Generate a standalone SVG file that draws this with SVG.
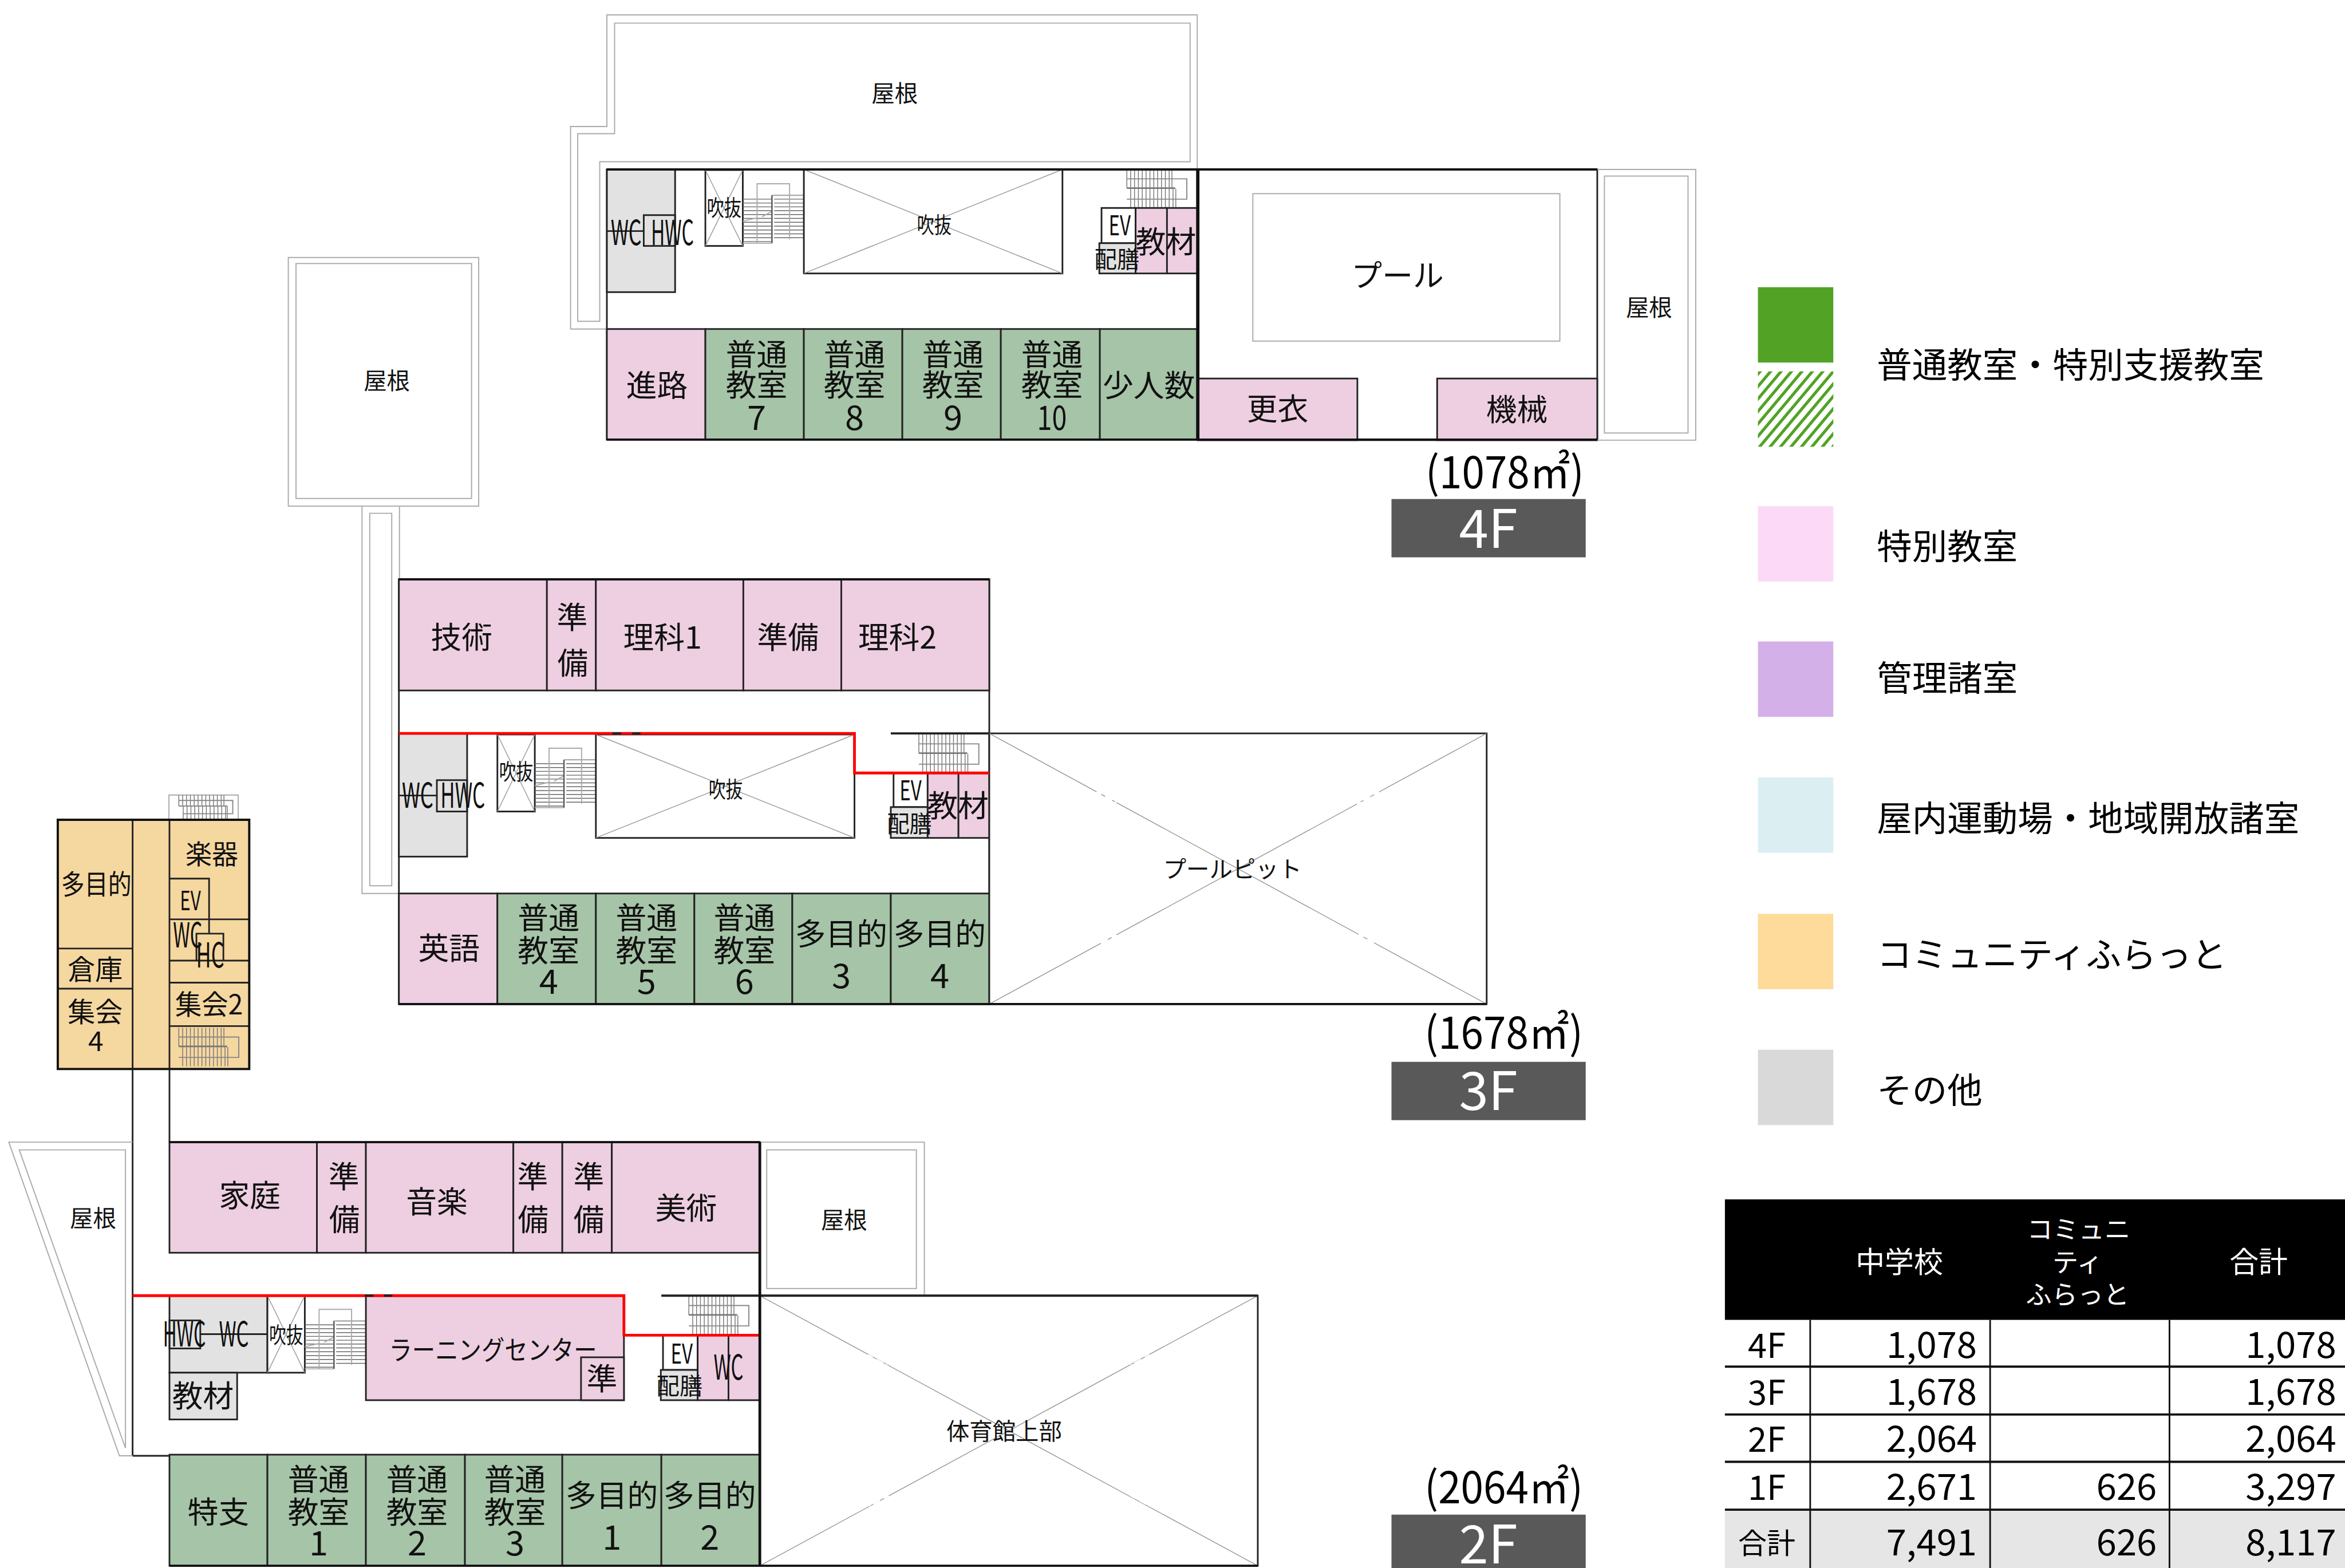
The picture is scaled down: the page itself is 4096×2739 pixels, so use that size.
<svg xmlns="http://www.w3.org/2000/svg" xmlns:xlink="http://www.w3.org/1999/xlink" width="4096" height="2739" viewBox="0 0 4096 2739">
<style>
text{font-family:"Noto Sans CJK JP","Noto Sans",sans-serif;fill:#111;text-anchor:middle}
.f56{font-size:56px}.f60{font-size:62px}.f42{font-size:42px}.f40{font-size:40px}.f50{font-size:50px}.f48{font-size:48px}.f46{font-size:46px}
.leg{font-size:64px;text-anchor:start;fill:#000}
.area{font-size:80px;fill:#000}
.flr{font-size:96px;fill:#fff}
.num{font-size:66px;text-anchor:end;fill:#000}
.lab{font-size:62px;fill:#000}
.hd{fill:#fff}
.pk{fill:#edcfe1;stroke:#222;stroke-width:3}
.gr{fill:#a6c4a7;stroke:#222;stroke-width:3}
.gy{fill:#e2e2e2;stroke:#222;stroke-width:3}
.wh{fill:#fff;stroke:#222;stroke-width:3}
.or{fill:#f5d7a0;stroke:#222;stroke-width:3}
.no{fill:none;stroke:#222;stroke-width:3}
.thick{fill:none;stroke:#111;stroke-width:4}
.roof{fill:none;stroke:#aaa;stroke-width:2}
.xl{fill:none;stroke:#999;stroke-width:1.5}
.red{fill:none;stroke:#f00;stroke-width:5}
.gap{fill:none;stroke:#fff;stroke-width:4;stroke-dasharray:10 8 14 6}
.tb{fill:none;stroke:#111;stroke-width:3}
</style>
<defs>
<pattern id="hatch" width="19" height="23" patternUnits="userSpaceOnUse" patternTransform="skewX(-40)">
<rect width="19" height="23" fill="#fff"/><rect width="7" height="23" fill="#52a325"/>
</pattern>
<g id="stL">
<path fill="none" stroke="#666" stroke-width="1.5" d="M0 28H53M0 35H53M0 42H53M0 49H53M0 56H53M0 63H53M0 70H53M0 77H53M0 84H53M0 91H53M0 98H53M0 105H53M57 21H111M57 28H111M57 35H111M57 42H111M57 49H111M57 56H111M57 63H111M57 70H111M57 77H111M57 84H111M57 91H111M57 98H111"/>
<path fill="none" stroke="#aaa" stroke-width="2" d="M26 108V0H85V101M0 108H53M53 21H111M0 68L25 62M35 60L53 50"/>
<path fill="none" stroke="#555" stroke-width="2.5" d="M53 21V108"/>
</g>
<g id="stR">
<path fill="none" stroke="#777" stroke-width="1.5" d="M0 0V34M7 0V34M14 0V34M21 0V34M28 0V34M35 0V34M42 0V34M49 0V34M56 0V34M63 0V34M70 0V34M77 0V34M82 0V34M7 35V70M14 35V70M21 35V70M28 35V70M35 35V70M42 35V70M49 35V70M56 35V70M63 35V70M70 35V70M77 35V70M84 35V70M89 35V70"/>
<path fill="none" stroke="#888" stroke-width="2" d="M0 17H109V54H0"/>
<path fill="none" stroke="#777" stroke-width="3" d="M0 34H88"/>
</g>
</defs>
<rect width="4096" height="2739" fill="#fff"/>
<g transform="scale(0.96105)">

<g id="floor-4F">
<path class="roof" d="M1103 598H1037V230H1103V27H2176V308"/>
<path class="roof" d="M1090 294H2163V42H1117V243H1050V584H1090Z"/>
<rect class="wh" x="1103" y="308" width="1073" height="491"/>
<rect class="gy" x="1103" y="308" width="124" height="223"/>
<rect class="no" x="1170" y="391" width="57" height="56"/>
<path class="no" d="M1103 420H1170"/>
<rect class="wh" x="1282" y="309" width="68" height="138"/>
<path class="xl" d="M1282 309L1350 447M1350 309L1282 447"/>
<use href="#stL" x="1350" y="334"/>
<rect class="wh" x="1461" y="308" width="470" height="189"/>
<path class="xl" d="M1461 308L1931 497M1931 308L1461 497"/>
<use href="#stR" x="2048" y="308"/>
<rect class="wh" x="2002" y="378" width="62" height="64"/>
<rect class="gy" x="1998" y="442" width="66" height="55"/>
<rect class="pk" x="2064" y="378" width="57" height="119"/>
<rect class="pk" x="2121" y="378" width="55" height="119"/>
<rect class="pk" x="1103" y="598" width="179" height="201"/>
<rect class="gr" x="1282" y="598" width="179" height="201"/>
<rect class="gr" x="1461" y="598" width="179" height="201"/>
<rect class="gr" x="1640" y="598" width="179" height="201"/>
<rect class="gr" x="1819" y="598" width="180" height="201"/>
<rect class="gr" x="1999" y="598" width="177" height="201"/>
<rect class="wh" x="2177" y="308" width="726" height="492"/>
<rect class="roof" x="2277" y="352" width="558" height="268"/>
<rect class="pk" x="2177" y="688" width="290" height="112"/>
<rect class="pk" x="2612" y="688" width="291" height="112"/>
<path class="roof" d="M2903 308H3082V800H2903"/>
<rect class="roof" x="2916" y="320" width="152" height="467"/>
<path class="thick" d="M1103 308H2903M1103 799H2903"/>
<path fill="none" stroke="#111" stroke-width="6" d="M2177 308V800"/>
<text class="f42" x="1626" y="185">屋根</text>
<text class="f42" x="2997" y="574">屋根</text>
<text class="f56" x="2540" y="521">プール</text>
<text class="f56" x="2322" y="764">更衣</text>
<text class="f56" x="2757" y="765">機械</text>
<text class="f60" x="1138" y="445" textLength="56" lengthAdjust="spacingAndGlyphs">WC</text>
<text class="f60" x="1222" y="445" textLength="78" lengthAdjust="spacingAndGlyphs">HWC</text>
<text class="f40" x="1316" y="392" textLength="63" lengthAdjust="spacingAndGlyphs">吹抜</text>
<text class="f40" x="1698" y="424" textLength="63" lengthAdjust="spacingAndGlyphs">吹抜</text>
<text class="f50" x="2035" y="428" textLength="40" lengthAdjust="spacingAndGlyphs">EV</text>
<text class="f42" x="2030" y="487" textLength="82" lengthAdjust="spacingAndGlyphs">配膳</text>
<text class="f56" x="2119" y="460" textLength="110" lengthAdjust="spacingAndGlyphs">教材</text>
<text class="f56" x="1194" y="721">進路</text>
<text class="f56" x="1375" y="665">普通</text><text class="f56" x="1375" y="720">教室</text><text class="f60" x="1375" y="781">7</text>
<text class="f56" x="1553" y="665">普通</text><text class="f56" x="1553" y="720">教室</text><text class="f60" x="1553" y="781">8</text>
<text class="f56" x="1732" y="665">普通</text><text class="f56" x="1732" y="720">教室</text><text class="f60" x="1732" y="781">9</text>
<text class="f56" x="1912" y="665">普通</text><text class="f56" x="1912" y="720">教室</text><text class="f60" x="1912" y="781" textLength="54" lengthAdjust="spacingAndGlyphs">10</text>
<text class="f56" x="2088" y="721">少人数</text>
<text class="area" x="2735" y="888" textLength="288" lengthAdjust="spacingAndGlyphs">(1078㎡)</text>
<rect x="2529" y="907" width="353" height="106" fill="#595959"/>
<text class="flr" x="2705" y="996">4F</text>
</g>

<g id="floor-3F">
<rect class="roof" x="524" y="468" width="346" height="452"/>
<rect class="roof" x="538" y="479" width="319" height="427"/>
<path class="roof" d="M725 1624H658V920M726 920V1053"/>
<path class="roof" d="M712 933H672V1610H712Z"/>
<text class="f42" x="703" y="708">屋根</text>
<rect class="wh" x="725" y="1053" width="1073" height="772"/>
<rect class="pk" x="725" y="1053" width="269" height="202"/>
<rect class="pk" x="994" y="1053" width="89" height="202"/>
<rect class="pk" x="1083" y="1053" width="268" height="202"/>
<rect class="pk" x="1351" y="1053" width="178" height="202"/>
<rect class="pk" x="1529" y="1053" width="269" height="202"/>
<rect class="gy" x="725" y="1333" width="124" height="224"/>
<rect class="no" x="794" y="1418" width="55" height="57"/>
<path class="no" d="M725 1446H794"/>
<rect class="wh" x="904" y="1335" width="68" height="140"/>
<path class="xl" d="M904 1335L972 1475M972 1335L904 1475"/>
<use href="#stL" x="972" y="1360"/>
<rect class="wh" x="1083" y="1335" width="470" height="188"/>
<path class="xl" d="M1083 1335L1553 1523M1553 1335L1083 1523"/>
<use href="#stR" x="1670" y="1335"/>
<rect class="wh" x="1624" y="1405" width="62" height="62"/>
<rect class="gy" x="1619" y="1467" width="67" height="56"/>
<rect class="pk" x="1686" y="1405" width="56" height="118"/>
<rect class="pk" x="1742" y="1405" width="56" height="118"/>
<rect class="pk" x="725" y="1624" width="179" height="201"/>
<rect class="gr" x="904" y="1624" width="179" height="201"/>
<rect class="gr" x="1083" y="1624" width="179" height="201"/>
<rect class="gr" x="1262" y="1624" width="178" height="201"/>
<rect class="gr" x="1440" y="1624" width="179" height="201"/>
<rect class="gr" x="1619" y="1624" width="179" height="201"/>
<rect class="wh" x="1798" y="1333" width="904" height="492"/>
<path class="xl" d="M1798 1333L2702 1825M2702 1333L1798 1825"/>
<path class="gap" d="M1993 1439L2029 1459M2506 1439L2466 1461M2029 1699L1996 1717M2469 1699L2502 1717"/>
<path class="red" d="M725 1333H1553V1405H1798"/>
<path fill="none" stroke="#222" stroke-width="4" d="M1113 1333H1129M1149 1333H1164M1619 1333H1798"/>
<path class="thick" d="M725 1053H1798M725 1825H2702"/>
<text class="f56" x="839" y="1179">技術</text>
<text class="f56" x="1040" y="1142">準</text><text class="f56" x="1041" y="1226">備</text>
<text class="f56" x="1204" y="1179">理科1</text>
<text class="f56" x="1432" y="1179">準備</text>
<text class="f56" x="1631" y="1179">理科2</text>
<text class="f60" x="759" y="1468" textLength="57" lengthAdjust="spacingAndGlyphs">WC</text>
<text class="f60" x="841" y="1468" textLength="81" lengthAdjust="spacingAndGlyphs">HWC</text>
<text class="f40" x="938" y="1417" textLength="62" lengthAdjust="spacingAndGlyphs">吹抜</text>
<text class="f40" x="1319" y="1449" textLength="62" lengthAdjust="spacingAndGlyphs">吹抜</text>
<text class="f50" x="1655" y="1455" textLength="40" lengthAdjust="spacingAndGlyphs">EV</text>
<text class="f42" x="1653" y="1513" textLength="82" lengthAdjust="spacingAndGlyphs">配膳</text>
<text class="f56" x="1741" y="1485" textLength="112" lengthAdjust="spacingAndGlyphs">教材</text>
<text class="f56" x="816" y="1744">英語</text>
<text class="f56" x="997" y="1689">普通</text><text class="f56" x="997" y="1748">教室</text><text class="f60" x="997" y="1806">4</text>
<text class="f56" x="1175" y="1689">普通</text><text class="f56" x="1175" y="1748">教室</text><text class="f60" x="1175" y="1806">5</text>
<text class="f56" x="1353" y="1689">普通</text><text class="f56" x="1353" y="1748">教室</text><text class="f60" x="1353" y="1806">6</text>
<text class="f56" x="1529" y="1718">多目的</text><text class="f60" x="1529" y="1796">3</text>
<text class="f56" x="1708" y="1718">多目的</text><text class="f60" x="1708" y="1796">4</text>
<text class="f42" x="2240" y="1595">プールピット</text>
<text class="area" x="2733" y="1906" textLength="288" lengthAdjust="spacingAndGlyphs">(1678㎡)</text>
<rect x="2529" y="1930" width="353" height="106" fill="#595959"/>
<text class="flr" x="2705" y="2018">3F</text>
</g>

<g id="floor-1F">
<path class="roof" d="M307 1490V1445H433V1490"/>
<path fill="none" stroke="#777" stroke-width="1.5" d="M325 1445V1465M332 1445V1465M339 1445V1465M346 1445V1465M353 1445V1465M360 1445V1465M367 1445V1465M374 1445V1465M381 1445V1465M388 1445V1465M395 1445V1465M402 1445V1465M407 1445V1465M333 1465V1490M340 1465V1490M347 1465V1490M354 1465V1490M361 1465V1490M368 1465V1490M375 1465V1490M382 1465V1490M389 1465V1490M396 1465V1490M403 1465V1490M410 1465V1490M413 1465V1490"/>
<path fill="none" stroke="#888" stroke-width="2" d="M325 1455H423V1479H333M325 1465H413"/>
<rect class="or" x="105" y="1490" width="348" height="453"/>
<path class="no" d="M241 1490V1943M308 1490V1943M105 1724H241M105 1797H241"/>
<path class="no" d="M308 1597H380V1671M308 1671H453M308 1746H453M380 1671V1697M308 1786H453M308 1865H453"/>
<path class="no" d="M357 1746V1697H406V1746"/>
<use href="#stR" x="325" y="1868"/>
<path class="thick" d="M105 1490H453V1943H105Z"/>
<text class="f50" x="175" y="1625" textLength="128" lengthAdjust="spacingAndGlyphs">多目的</text>
<text class="f48" x="385" y="1570">楽器</text>
<text class="f50" x="173" y="1780">倉庫</text>
<text class="f50" x="173" y="1857">集会</text>
<text class="f50" x="174" y="1910">4</text>
<text class="f50" x="380" y="1844" textLength="123" lengthAdjust="spacingAndGlyphs">集会2</text>
<text class="f48" x="346" y="1654" textLength="38" lengthAdjust="spacingAndGlyphs">EV</text>
<text class="f60" x="341" y="1722" textLength="53" lengthAdjust="spacingAndGlyphs">WC</text>
<text class="f60" x="382" y="1758" textLength="51" lengthAdjust="spacingAndGlyphs">HC</text>
</g>

<g id="floor-2F">
<path class="no" d="M241 1943V2646M308 1943V2076M241 2646H1381"/>
<path class="roof" d="M241 2076H16L217 2646H241"/>
<path class="roof" d="M228 2090H35L228 2632Z"/>
<path class="roof" d="M1381 2076H1680V2355"/>
<rect class="roof" x="1393.5" y="2090" width="272" height="252"/>
<rect class="pk" x="308" y="2076" width="268" height="201"/>
<rect class="pk" x="576" y="2076" width="89" height="201"/>
<rect class="pk" x="665" y="2076" width="268" height="201"/>
<rect class="pk" x="933" y="2076" width="89" height="201"/>
<rect class="pk" x="1022" y="2076" width="90" height="201"/>
<rect class="pk" x="1112" y="2076" width="269" height="201"/>
<rect class="gy" x="308" y="2355" width="178" height="140"/>
<rect class="no" x="308" y="2400" width="56" height="51"/>
<path class="no" d="M364 2425H486"/>
<rect class="gy" x="308" y="2495" width="123" height="85"/>
<rect class="wh" x="486" y="2355" width="68" height="140"/>
<path class="xl" d="M486 2355L554 2495M554 2355L486 2495"/>
<use href="#stL" x="554" y="2380"/>
<rect class="pk" x="665" y="2355" width="469" height="190"/>
<rect class="pk" x="1056" y="2467" width="78" height="78"/>
<use href="#stR" x="1252" y="2356"/>
<rect class="wh" x="1205" y="2427" width="63" height="63"/>
<rect class="gy" x="1201" y="2490" width="67" height="55"/>
<rect class="pk" x="1268" y="2427" width="56" height="118"/>
<rect class="pk" x="1324" y="2427" width="57" height="118"/>
<rect class="gr" x="308" y="2644" width="178" height="202"/>
<rect class="gr" x="486" y="2644" width="179" height="202"/>
<rect class="gr" x="665" y="2644" width="180" height="202"/>
<rect class="gr" x="845" y="2644" width="177" height="202"/>
<rect class="gr" x="1022" y="2644" width="180" height="202"/>
<rect class="gr" x="1202" y="2644" width="179" height="202"/>
<rect class="wh" x="1381" y="2355" width="905" height="491"/>
<path class="xl" d="M1381 2355L2286 2846M2286 2355L1381 2846"/>
<path class="gap" d="M1577 2463L1612 2482M1615 2718L1580 2737M2090 2463L2055 2482M2055 2718L2090 2737"/>
<path class="red" d="M241 2355H1134V2427H1381"/>
<path fill="none" stroke="#222" stroke-width="4" d="M663 2355H679M698 2355H713M1202 2355H2286"/>
<path class="thick" d="M308 2076H1381M308 2846H2286"/>
<path fill="none" stroke="#111" stroke-width="5" d="M1381 2076V2846"/>
<text class="f42" x="169" y="2230">屋根</text>
<text class="f42" x="1534" y="2233">屋根</text>
<text class="f56" x="454" y="2193">家庭</text>
<text class="f56" x="625" y="2159">準</text><text class="f56" x="626" y="2237">備</text>
<text class="f56" x="794" y="2205">音楽</text>
<text class="f56" x="968" y="2159">準</text><text class="f56" x="969" y="2237">備</text>
<text class="f56" x="1070" y="2159">準</text><text class="f56" x="1070" y="2237">備</text>
<text class="f56" x="1247" y="2216">美術</text>
<text class="f60" x="335" y="2447" textLength="78" lengthAdjust="spacingAndGlyphs">HWC</text>
<text class="f60" x="425" y="2447" textLength="54" lengthAdjust="spacingAndGlyphs">WC</text>
<text class="f40" x="520" y="2441" textLength="62" lengthAdjust="spacingAndGlyphs">吹抜</text>
<text class="f56" x="369" y="2558">教材</text>
<text class="f48" x="896" y="2471" textLength="378" lengthAdjust="spacingAndGlyphs">ラーニングセンター</text>
<text class="f56" x="1094" y="2526">準</text>
<text class="f50" x="1239" y="2479" textLength="40" lengthAdjust="spacingAndGlyphs">EV</text>
<text class="f42" x="1235" y="2535" textLength="84" lengthAdjust="spacingAndGlyphs">配膳</text>
<text class="f60" x="1324" y="2508" textLength="54" lengthAdjust="spacingAndGlyphs">WC</text>
<text class="f56" x="397" y="2769">特支</text>
<text class="f56" x="579" y="2710">普通</text><text class="f56" x="579" y="2769">教室</text><text class="f60" x="579" y="2827">1</text>
<text class="f56" x="758" y="2710">普通</text><text class="f56" x="758" y="2769">教室</text><text class="f60" x="758" y="2827">2</text>
<text class="f56" x="936" y="2710">普通</text><text class="f56" x="936" y="2769">教室</text><text class="f60" x="936" y="2827">3</text>
<text class="f56" x="1112" y="2739">多目的</text><text class="f60" x="1112" y="2817">1</text>
<text class="f56" x="1290" y="2739">多目的</text><text class="f60" x="1290" y="2817">2</text>
<text class="f42" x="1825" y="2617">体育館上部</text>
<text class="area" x="2733" y="2732" textLength="288" lengthAdjust="spacingAndGlyphs">(2064㎡)</text>
<rect x="2529" y="2753" width="353" height="97" fill="#595959"/>
<text class="flr" x="2705" y="2842">2F</text>
</g>

<g id="legend">
<rect x="3195" y="522" width="137" height="137" fill="#52a325"/>
<rect x="3195" y="675" width="137" height="137" fill="url(#hatch)"/>
<rect x="3195" y="920" width="137" height="137" fill="#fcd9f7"/>
<rect x="3195" y="1166" width="137" height="137" fill="#d4b0e8"/>
<rect x="3195" y="1413" width="137" height="137" fill="#dbeff2"/>
<rect x="3195" y="1661" width="137" height="137" fill="#fedb9b"/>
<rect x="3195" y="1908" width="137" height="137" fill="#d9d9d9"/>
<text class="leg" x="3411" y="687">普通教室・特別支援教室</text>
<text class="leg" x="3411" y="1017">特別教室</text>
<text class="leg" x="3411" y="1256">管理諸室</text>
<text class="leg" x="3411" y="1511">屋内運動場・地域開放諸室</text>
<text class="leg" x="3411" y="1758">コミュニティふらっと</text>
<text class="leg" x="3411" y="2005">その他</text>
</g>

<g id="area-table">
<rect x="3135" y="2180" width="1127" height="219" fill="#000"/>
<rect x="3135" y="2744" width="1127" height="106" fill="#e6e6e6"/>
<path class="tb" d="M3290 2399V2850M3617 2399V2850M3943 2399V2850"/>
<path fill="none" stroke="#111" stroke-width="4" d="M3135 2484H4262M3135 2571H4262M3135 2657H4262M3135 2744H4262"/>
<text class="hd" font-size="53" x="3452" y="2313">中学校</text>
<text class="hd" font-size="47" x="3778" y="2252">コミュニ</text>
<text class="hd" font-size="47" x="3776" y="2312">ティ</text>
<text class="hd" font-size="47" x="3776" y="2370">ふらっと</text>
<text class="hd" font-size="53" x="4105" y="2313">合計</text>
<text class="lab" x="3211" y="2468">4F</text><text class="num" x="3593" y="2468">1,078</text><text class="num" x="4246" y="2468">1,078</text>
<text class="lab" x="3211" y="2553">3F</text><text class="num" x="3593" y="2553">1,678</text><text class="num" x="4246" y="2553">1,678</text>
<text class="lab" x="3211" y="2639">2F</text><text class="num" x="3593" y="2639">2,064</text><text class="num" x="4246" y="2639">2,064</text>
<text class="lab" x="3211" y="2726">1F</text><text class="num" x="3593" y="2726">2,671</text><text class="num" x="3920" y="2726">626</text><text class="num" x="4246" y="2726">3,297</text>
<text font-size="52" x="3211" y="2824" style="fill:#000">合計</text><text class="num" x="3593" y="2827">7,491</text><text class="num" x="3920" y="2827">626</text><text class="num" x="4246" y="2827">8,117</text>
</g>
</g>
</svg>
